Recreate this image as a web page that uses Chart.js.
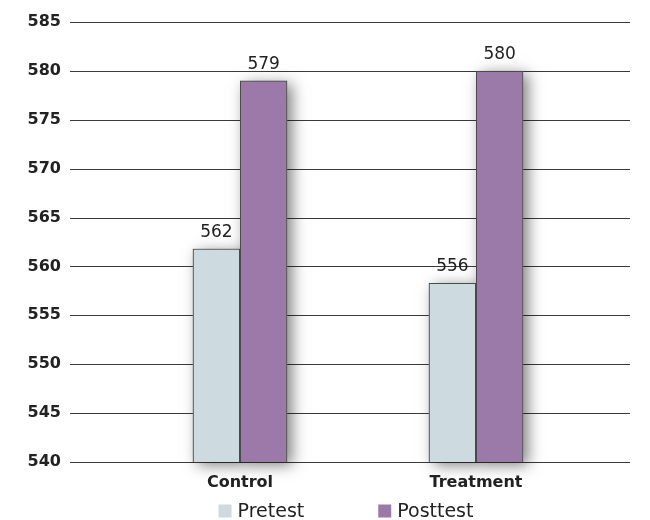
<!DOCTYPE html>
<html>
<head>
<meta charset="utf-8">
<script src="https://cdn.jsdelivr.net/npm/chart.js@4.4.1/dist/chart.umd.min.js"></script>
<style>
  body { margin: 0; background: #fff; }
  #wrap { width: 650px; height: 520px; }
</style>
</head>
<body>
<div id="wrap"><canvas id="scoreChart" width="650" height="520"></canvas></div>
<script>
// values
const groups = ["Control", "Treatment"];
const pretestScores = [561.8, 558.3];
const posttestScores = [579, 580];
const pretestLabels = ["562", "556"];
const posttestLabels = ["579", "580"];
const yTicks = [540, 545, 550, 555, 560, 565, 570, 575, 580, 585];

const FONT = "'DejaVu Sans', sans-serif";

// horizontal rules run wider than the plot area, then bar shadows on top
const gridPlugin = {
    id: 'wideGrid',
    beforeDatasetsDraw(chart) {
        const ctx = chart.ctx;
        const y = chart.scales.y;
        ctx.save();
        ctx.strokeStyle = '#3a3a3a';
        ctx.lineWidth = 1;
        yTicks.forEach(function(t) {
            let py = Math.round(y.getPixelForValue(t)) + 0.5;
            ctx.beginPath();
            ctx.moveTo(70, py);
            ctx.lineTo(630, py);
            ctx.stroke();
        });
        ctx.restore();

        // soft drop shadow behind every bar
        const bottom = chart.chartArea.bottom;
        ctx.save();
        ctx.shadowColor = 'rgba(0,0,0,0.5)';
        ctx.shadowBlur = 14;
        ctx.shadowOffsetX = 5;
        ctx.shadowOffsetY = 3;
        ctx.fillStyle = '#888';
        chart.data.datasets.forEach(function(ds, i) {
            chart.getDatasetMeta(i).data.forEach(function(bar) {
                let p = bar.getProps(['x', 'y', 'width']);
                ctx.fillRect(p.x - p.width / 2, p.y, p.width, bottom - p.y);
            });
        });
        ctx.restore();
    }
};

// value labels above each bar
const valuePlugin = {
    id: 'valueLabels',
    afterDatasetsDraw(chart) {
        const ctx = chart.ctx;
        const texts = [pretestLabels, posttestLabels];
        ctx.save();
        ctx.font = '17px ' + FONT;
        ctx.fillStyle = '#222';
        ctx.textAlign = 'center';
        ctx.textBaseline = 'bottom';
        chart.data.datasets.forEach(function(ds, i) {
            chart.getDatasetMeta(i).data.forEach(function(bar, j) {
                ctx.fillText(texts[i][j], bar.x, bar.y - 8);
            });
        });
        ctx.restore();
    }
};

// legend drawn by hand so the item spacing matches
const legendPlugin = {
    id: 'spacedLegend',
    afterDraw(chart) {
        const ctx = chart.ctx;
        const box = 13, gap = 6, spacing = 74;
        ctx.save();
        ctx.font = '19px ' + FONT;
        ctx.textBaseline = 'middle';
        let items = chart.data.datasets.map(function(ds) {
            return { text: ds.label, color: ds.backgroundColor, w: box + gap + ctx.measureText(ds.label).width };
        });
        let total = items.reduce(function(s, it) { return s + it.w; }, 0) + spacing * (items.length - 1);
        let x = 346 - total / 2;
        let cy = 512;
        items.forEach(function(it) {
            ctx.fillStyle = it.color;
            ctx.fillRect(x, cy - box / 2 - 1, box, box);
            ctx.fillStyle = '#222';
            ctx.fillText(it.text, x + box + gap, cy);
            x += it.w + spacing;
        });
        ctx.restore();
    }
};

const ctx = document.querySelector('#scoreChart').getContext('2d');
const scoreChart = new Chart(ctx, {
    type: 'bar',
    data: {
        labels: groups,
        datasets: [
            {
                label: 'Pretest',
                data: pretestScores,
                backgroundColor: '#cddbe0',
                borderColor: '#4a4a4a',
                borderWidth: 1
            },
            {
                label: 'Posttest',
                data: posttestScores,
                backgroundColor: '#9b79a8',
                borderColor: '#4a4a4a',
                borderWidth: 1
            }
        ]
    },
    options: {
        responsive: false,
        animation: false,
        layout: { padding: { top: 22, right: 56, left: 0, bottom: 0 } },
        datasets: { bar: { categoryPercentage: 0.4, barPercentage: 1 } },
        plugins: {
            legend: { display: false },
            tooltip: { enabled: false }
        },
        scales: {
            x: {
                grid: { display: false },
                border: { display: false },
                ticks: {
                    color: '#222',
                    font: { family: FONT, size: 16, weight: 'bold' },
                    padding: 3
                },
                afterFit: function(axis) { axis.height = 58; }
            },
            y: {
                min: 540,
                max: 585,
                afterBuildTicks: function(axis) {
                    axis.ticks = yTicks.map(function(v) { return { value: v }; });
                },
                grid: { display: false },
                border: { display: false },
                ticks: {
                    color: '#222',
                    font: { family: FONT, size: 16, weight: 'bold' },
                    padding: 53
                },
                afterFit: function(axis) {
                    axis.width = 122;
                    axis.paddingTop = 0;
                    axis.paddingBottom = 0;
                }
            }
        }
    },
    plugins: [gridPlugin, valuePlugin, legendPlugin]
});
</script>
</body>
</html>
